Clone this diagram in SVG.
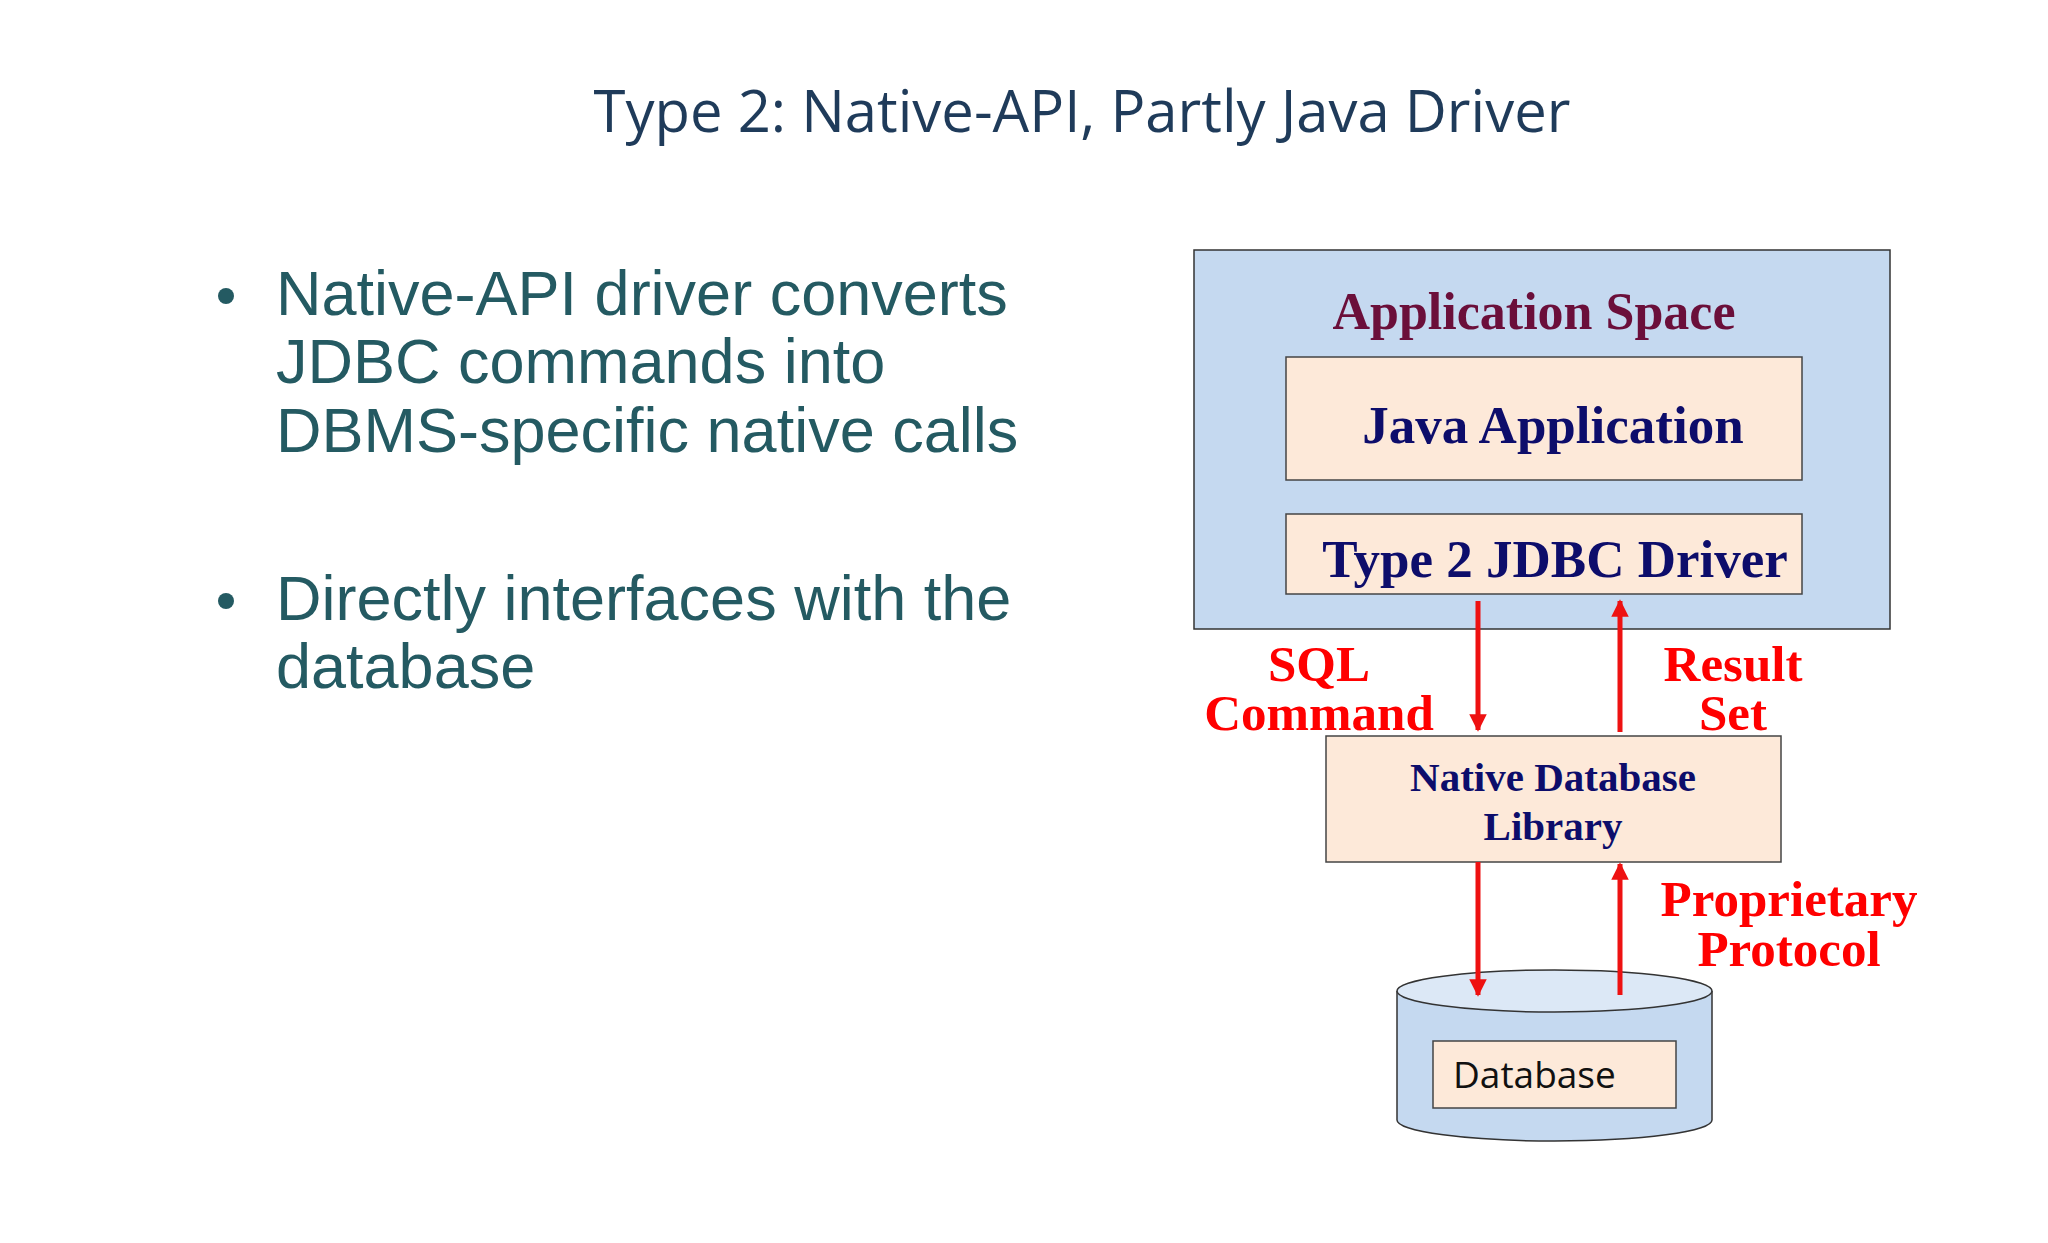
<svg xmlns="http://www.w3.org/2000/svg" width="2048" height="1243" viewBox="0 0 2048 1243">
<defs>
<style>
.b{font-family:"Liberation Sans",Arial,sans-serif;font-size:63px;fill:#245a62}
.s{font-family:"Liberation Serif","Times New Roman",serif;font-weight:bold;text-anchor:middle}
.n{fill:#0d0d6b}
.r{fill:#ff0000;font-size:51px}
.box{fill:#fde9d9;stroke:#444;stroke-width:1.5}
.a{stroke:#ee1111;stroke-width:5;marker-end:url(#ah)}
</style>
<marker id="ah" viewBox="0 0 10 10" refX="9" refY="5" markerWidth="4" markerHeight="3.5" orient="auto" markerUnits="strokeWidth"><path d="M0,0L10,5L0,10z" fill="#ee1111"/></marker>
</defs>
<rect width="2048" height="1243" fill="#fff"/>
<text x="1082" y="132" text-anchor="middle" font-family="'Open Sans',sans-serif" font-size="58" fill="#1f3b5a">Type 2: Native-API, Partly Java Driver</text>
<g id="bullets">
<circle cx="226" cy="296" r="8" fill="#245a62"/>
<text class="b" x="276" y="315">Native-API driver converts</text>
<text class="b" x="276" y="383">JDBC commands into</text>
<text class="b" x="276" y="452">DBMS-specific native calls</text>
<circle cx="226" cy="601" r="8" fill="#245a62"/>
<text class="b" x="276" y="620">Directly interfaces with the</text>
<text class="b" x="276" y="688">database</text>
</g>
<g transform="translate(-7,-3)">
<g id="appspace">
<rect x="1201" y="253" width="696" height="379" fill="#c5d9f0" stroke="#333" stroke-width="1.5"/>
<text class="s" x="1541" y="332" font-size="52" fill="#6b0f3a">Application Space</text>
</g>
<g id="javaapp">
<rect class="box" x="1293" y="360" width="516" height="123"/>
<text class="s n" x="1560" y="446" font-size="53">Java Application</text>
</g>
<g id="driver">
<rect class="box" x="1293" y="517" width="516" height="80"/>
<text class="s n" x="1562" y="580" font-size="53">Type 2 JDBC Driver</text>
</g>
<g id="nativelib">
<rect class="box" x="1333" y="739" width="455" height="126"/>
<text class="s n" x="1560" y="794" font-size="41">Native Database</text>
<text class="s n" x="1560" y="843" font-size="41">Library</text>
</g>
<g id="database">
<path d="M1404,994 L1404,1123 A157.5,21 0 0 0 1719,1123 L1719,994" fill="#c5d9f0" stroke="#333" stroke-width="1.5"/>
<ellipse cx="1561.5" cy="994" rx="157.5" ry="21" fill="#dce8f6" stroke="#333" stroke-width="1.5"/>
<rect class="box" x="1440" y="1044" width="243" height="67"/>
<text x="1460" y="1091" font-family="'Open Sans',sans-serif" font-size="37" fill="#111">Database</text>
</g>
<g id="connectors">
<line class="a" x1="1485" y1="604" x2="1485" y2="733"/>
<line class="a" x1="1627" y1="735" x2="1627" y2="604"/>
<line class="a" x1="1485" y1="865" x2="1485" y2="998"/>
<line class="a" x1="1627" y1="998" x2="1627" y2="867"/>
</g>
<g id="labels">
<text class="s r" x="1326" y="684">SQL</text>
<text class="s r" x="1326" y="733">Command</text>
<text class="s r" x="1740" y="684">Result</text>
<text class="s r" x="1740" y="733">Set</text>
<text class="s r" x="1796" y="919">Proprietary</text>
<text class="s r" x="1796" y="969">Protocol</text>
</g>
</g>
</svg>
